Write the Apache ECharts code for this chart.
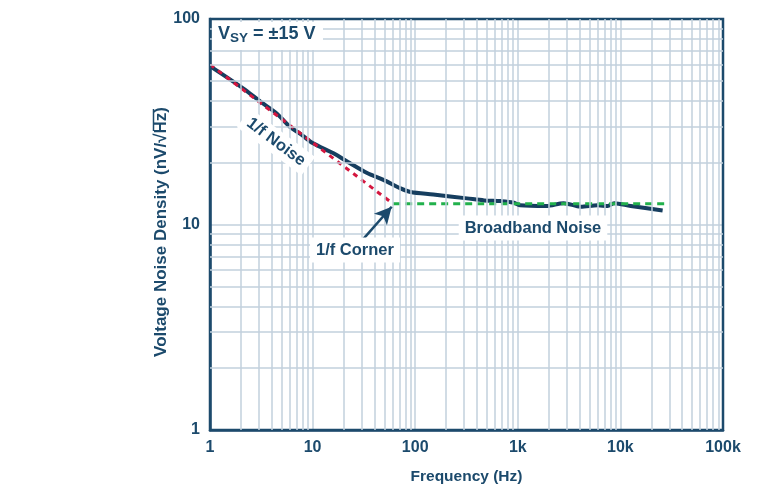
<!DOCTYPE html>
<html>
<head>
<meta charset="utf-8">
<script src="https://cdn.jsdelivr.net/npm/echarts@6/dist/echarts.min.js"></script>
<style>html,body{margin:0;padding:0;background:#fff;}#c{width:760px;height:484px;}</style>
</head>
<body>
<div id="c"></div>
<script>
var noiseFreq = [1, 2.1, 3.1, 4.5, 6, 7.6, 10, 16, 23, 34, 49, 72, 90, 150, 320, 470, 680, 900, 1050, 1900, 2800, 4100, 6000, 7500, 8700, 12600, 25800];
var noiseVal  = [59, 46, 39.6, 34.6, 29.9, 27.6, 24.9, 22.2, 19.9, 17.8, 16.5, 15.0, 14.4, 14.0, 13.4, 13.1, 13.0, 12.8, 12.4, 12.3, 12.7, 12.2, 12.4, 12.3, 12.7, 12.3, 11.7];
var oneOverFFreq = [1, 61];
var oneOverFVal  = [60, 12.6];
var broadbandFreq = [61, 30000];
var broadbandVal  = [12.6, 12.6];
var xTickLabels = ['1', '10', '100', '1k', '10k', '100k'];
var yTickLabels = ['1', '10', '100'];
var xDecades = [1, 10, 100, 1000, 10000];
var yDecades = [1, 10];
var minorMult = [2, 3, 4, 5, 6, 7, 8, 9];

var navy = '#1c4a6c';
var gridCol = '#c2d0dc';
var font = 'Liberation Sans, Arial, sans-serif';

function zip(a, b) { return a.map(function (v, i) { return [v, b[i]]; }); }

var minorLines = [];
xDecades.forEach(function (d) { minorMult.forEach(function (m) { minorLines.push({ xAxis: d * m }); }); });
yDecades.forEach(function (d) { minorMult.forEach(function (m) { minorLines.push({ yAxis: d * m }); }); });

var chart = echarts.init(document.getElementById('c'), null, { renderer: 'canvas' });
chart.setOption({
  animation: false,
  backgroundColor: '#fff',
  grid: { left: 210, right: 37, top: 19, bottom: 54, outerBoundsMode: 'none', containLabel: false,
          show: true, borderColor: navy, borderWidth: 2.5, backgroundColor: 'transparent', z: 5 },
  xAxis: {
    type: 'log', logBase: 10, min: 1, max: 100000,
    name: 'Frequency (Hz)', nameLocation: 'middle', nameGap: 39,
    nameTextStyle: { color: navy, fontSize: 15.5, fontWeight: 'bold', fontFamily: font },
    axisLine: { show: true, lineStyle: { color: navy, width: 2.5 } },
    axisTick: { show: false },
    axisLabel: { color: navy, fontSize: 16, fontWeight: 'bold', fontFamily: font, margin: 10,
      formatter: function (v) { var i = Math.round(Math.log10(v)); return xTickLabels[i]; } },
    splitLine: { show: true, lineStyle: { color: gridCol, width: 1.5 } }
  },
  yAxis: {
    type: 'log', logBase: 10, min: 1, max: 100,
    axisLine: { show: true, lineStyle: { color: navy, width: 2.5 } },
    axisTick: { show: false },
    axisLabel: { color: navy, fontSize: 16, fontWeight: 'bold', fontFamily: font, margin: 10,
      formatter: function (v) { var i = Math.round(Math.log10(v)); return yTickLabels[i]; } },
    splitLine: { show: true, lineStyle: { color: gridCol, width: 1.5 } }
  },
  series: [
    {
      type: 'line', data: [], silent: true,
      markLine: { silent: true, symbol: ['none', 'none'], label: { show: false },
        lineStyle: { color: gridCol, width: 1.5, type: 'solid' }, data: minorLines, animation: false }
    },
    {
      type: 'line', data: zip(noiseFreq, noiseVal), showSymbol: false, smooth: 0.3, z: 3,
      lineStyle: { color: '#163e5f', width: 4 }
    },
    {
      type: 'line', data: zip(oneOverFFreq, oneOverFVal), showSymbol: false, z: 4,
      lineStyle: { color: '#d4163f', width: 3, type: [5, 5] }
    },
    {
      type: 'line', data: zip(broadbandFreq, broadbandVal), showSymbol: false, z: 4,
      lineStyle: { color: '#22b14c', width: 3, type: [7, 5] },
      markLine: { silent: true, symbol: ['none', 'arrow'], symbolSize: [13, 17], label: { show: false },
        lineStyle: { color: navy, width: 2.5, type: 'solid' },
        data: [[{ coord: [30.5, 8.4] }, { coord: [59, 12.2] }]] }
    }
  ],
  graphic: [
    { type: 'rect', left: 212, top: 22, shape: { width: 111, height: 28 }, style: { fill: '#fff' }, z: 10 },
    { type: 'text', left: 218, top: 25, z: 11,
      style: { rich: { a: { fontSize: 18, fontWeight: 'bold', fill: navy, fontFamily: font },
                       s: { fontSize: 13.5, fontWeight: 'bold', fill: navy, fontFamily: font, padding: [9, 0, 0, 0] } },
               text: '{a|V}{s|SY}{a| = ±15 V}' } },
    { type: 'text', x: 276, y: 142, rotation: -37 * Math.PI / 180, z: 11,
      style: { text: '1/f Noise', fontSize: 16.5, fontWeight: 'bold', fill: navy, fontFamily: font,
               align: 'center', verticalAlign: 'middle', backgroundColor: '#fff', padding: [3, 6] } },
    { type: 'text', x: 355, y: 250, z: 11,
      style: { text: '1/f Corner', fontSize: 16.5, fontWeight: 'bold', fill: navy, fontFamily: font,
               align: 'center', verticalAlign: 'middle', backgroundColor: '#fff', padding: [4, 6] } },
    { type: 'text', x: 533, y: 228, z: 11,
      style: { text: 'Broadband Noise', fontSize: 16.5, fontWeight: 'bold', fill: navy, fontFamily: font,
               align: 'center', verticalAlign: 'middle', backgroundColor: '#fff', padding: [4, 6] } },
    { type: 'text', x: 161, y: 232, rotation: Math.PI / 2, z: 11,
      style: { text: 'Voltage Noise Density (nV/√Hz)', fontSize: 17, fontWeight: 'bold', fill: navy, fontFamily: font,
               align: 'center', verticalAlign: 'middle' } },
    { type: 'line', z: 11, shape: { x1: 153.5, y1: 109, x2: 153.5, y2: 131 }, style: { stroke: navy, lineWidth: 1.5 } }
  ]
});
</script>
</body>
</html>
